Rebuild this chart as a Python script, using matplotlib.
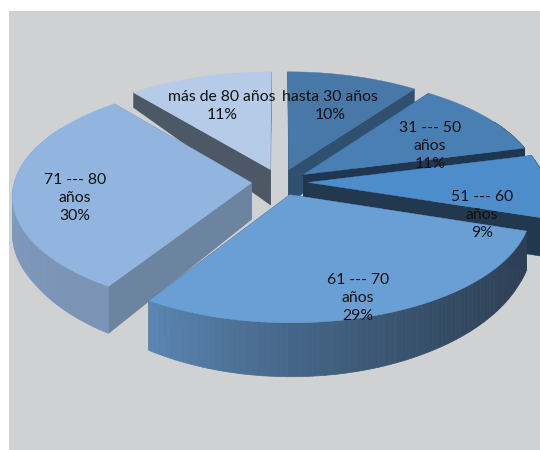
import numpy as np
import matplotlib
matplotlib.use("Agg")
import matplotlib.pyplot as plt
from matplotlib.colors import to_rgb

plt.rcParams['font.family'] = ['Lato', 'DejaVu Sans']

# data, clockwise from 12 o'clock
categories = ['hasta 30 años', '31 --- 50\naños', '51 --- 60\naños',
              '61 --- 70\naños', '71 --- 80\naños', 'más de 80 años']
values = [10, 11, 9, 29, 30, 11]

# styles, same order as the data
top_colors = ['#4878a8', '#4a7fb4', '#4d8dcb', '#6a9fd6', '#92b5e0', '#b5cbe8']
face_colors = ['#30506f', '#1f3650', '#22384f', '#2f4258', '#6d84a0', '#4c5866']
rim_start = ['#30506f', '#1f3650', '#1f3a55', '#2d3f55', '#7b93b5', '#4c5866']
rim_end = ['#30506f', '#1f3650', '#1f3a55', '#5a86b2', '#88aed8', '#4c5866']
label_xy = [(330, 106), (430, 146), (482, 215), (358, 298), (75, 198), (222, 106)]
draw_order = [5, 0, 1, 2, 4, 3]

# fake 3d view
CX, CY = 280, 182
RX, RY = 237, 111
PERSP = 0.11
EXPLODE = 0.12


def project(u, v):
    s = 1.0 / (1.0 + PERSP * v)
    return CX + RX * u * s, CY - RY * v * s


def depth(y):
    # sides look thicker towards the viewer
    return np.interp(y, [89, 172, 245, 303, 323], [14, 36, 40, 50, 54])


def mix(c1, c2, t):
    return tuple((1 - t) * a + t * b for a, b in zip(to_rgb(c1), to_rgb(c2)))


fig = plt.figure(figsize=(5.4, 4.5), dpi=100, facecolor='white')
ax = fig.add_axes([9 / 540, 0, 531 / 540, 439 / 450], facecolor='#d0d1d3')
ax.set_xlim(9, 540)
ax.set_ylim(450, 11)
ax.set_xticks([])
ax.set_yticks([])
for sp in ax.spines.values():
    sp.set_visible(False)

edges = np.cumsum([0] + values) / sum(values) * 2 * np.pi

for i in draw_order:
    a0, a1 = edges[i], edges[i + 1]
    mid = (a0 + a1) / 2
    u0, v0 = EXPLODE * np.sin(mid), EXPLODE * np.cos(mid)
    ang = np.linspace(a0, a1, 80)
    rx, ry = project(u0 + np.sin(ang), v0 + np.cos(ang))
    ax_, ay_ = project(u0, v0)

    # the two cut faces
    for rim_x, rim_y in [(rx[0], ry[0]), (rx[-1], ry[-1])]:
        xs = [ax_, rim_x, rim_x, ax_]
        ys = [ay_, rim_y, rim_y + depth(rim_y), ay_ + depth(ay_)]
        ax.fill(xs, ys, color=face_colors[i], lw=0.3)

    # outer rim, strip by strip so it can carry a gradient
    for k in range(len(ang) - 1):
        if np.cos(ang[k]) > 0.5 and np.cos(ang[k + 1]) > 0.5:
            continue  # back of the pie, hidden anyway
        t = (k / (len(ang) - 2)) ** 1.6
        c = mix(rim_start[i], rim_end[i], t)
        xs = [rx[k], rx[k + 1], rx[k + 1], rx[k]]
        ys = [ry[k], ry[k + 1], ry[k + 1] + depth(ry[k + 1]), ry[k] + depth(ry[k])]
        ax.fill(xs, ys, color=c, lw=0.5)

    # top
    ax.fill(np.r_[ax_, rx], np.r_[ay_, ry], color=top_colors[i], lw=0.3)

for cat, val, (x, y) in zip(categories, values, label_xy):
    ax.text(x, y, f'{cat}\n{val}%', ha='center', va='center', fontsize=11.3,
            color='#111111', linespacing=1.33)

fig.savefig('out.png', dpi=100, facecolor='white')
